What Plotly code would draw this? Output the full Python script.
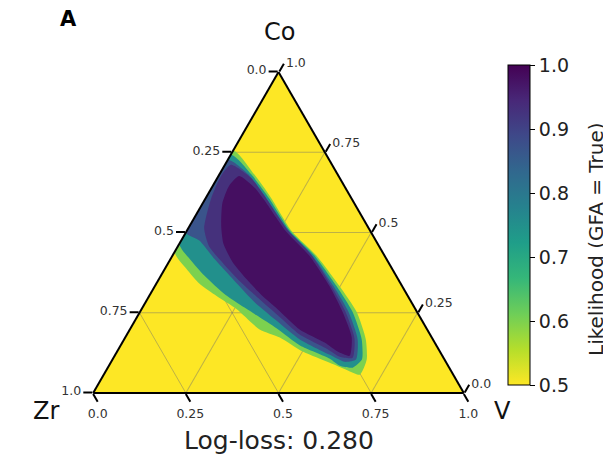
import plotly.graph_objects as go
from plotly.colors import sequential, hex_to_rgb

# ---------------- data (Co, Zr, V fractions) ----------------
tick_vals = [0.0, 0.25, 0.5, 0.75, 1.0]
tick_text_rev = ["1.0", "0.75", "0.5", "0.25", "0.0"]
cbar_vals = [0.5, 0.6, 0.7, 0.8, 0.9, 1.0]
cbar_text = ["0.5", "0.6", "0.7", "0.8", "0.9", "1.0"]

level_values = [0.60, 0.75, 0.87, 0.93, 0.98]

l1_co = [0.755, 0.682, 0.607, 0.503, 0.428, 0.333, 0.252, 0.167, 0.104, 0.057, 0.072, 0.094, 0.129, 0.173, 0.198, 0.261, 0.302, 0.340, 0.387, 0.440]
l1_zr = [0.245, 0.225, 0.216, 0.212, 0.184, 0.169, 0.163, 0.181, 0.210, 0.252, 0.280, 0.315, 0.370, 0.410, 0.452, 0.482, 0.516, 0.543, 0.555, 0.560]
l1_v  = [0.000, 0.093, 0.177, 0.285, 0.388, 0.498, 0.585, 0.652, 0.686, 0.691, 0.648, 0.591, 0.501, 0.417, 0.350, 0.257, 0.182, 0.117, 0.058, 0.000]

l2_co = [0.742, 0.682, 0.607, 0.503, 0.428, 0.333, 0.252, 0.167, 0.104, 0.079, 0.085, 0.107, 0.148, 0.201, 0.242, 0.305, 0.365, 0.418, 0.465]
l2_zr = [0.258, 0.233, 0.222, 0.216, 0.189, 0.177, 0.174, 0.192, 0.223, 0.260, 0.292, 0.308, 0.368, 0.404, 0.438, 0.490, 0.517, 0.531, 0.535]
l2_v  = [0.000, 0.085, 0.171, 0.281, 0.383, 0.490, 0.574, 0.641, 0.673, 0.661, 0.623, 0.585, 0.484, 0.395, 0.320, 0.205, 0.118, 0.051, 0.000]

l3_co = [0.726, 0.682, 0.601, 0.503, 0.428, 0.333, 0.252, 0.167, 0.104, 0.097, 0.119, 0.167, 0.230, 0.283, 0.349, 0.418, 0.475, 0.500]
l3_zr = [0.274, 0.241, 0.230, 0.220, 0.195, 0.185, 0.185, 0.203, 0.239, 0.273, 0.302, 0.359, 0.395, 0.423, 0.444, 0.464, 0.476, 0.500]
l3_v  = [0.000, 0.077, 0.169, 0.277, 0.377, 0.482, 0.563, 0.630, 0.657, 0.630, 0.579, 0.474, 0.375, 0.294, 0.207, 0.118, 0.049, 0.000]

l3b_co = [0.711, 0.670, 0.613, 0.506, 0.431, 0.333, 0.252, 0.170, 0.110, 0.113, 0.138, 0.182, 0.242, 0.292, 0.346, 0.403, 0.456, 0.513, 0.607, 0.676]
l3b_zr = [0.273, 0.239, 0.230, 0.221, 0.196, 0.191, 0.193, 0.210, 0.245, 0.278, 0.301, 0.352, 0.381, 0.405, 0.429, 0.447, 0.459, 0.444, 0.378, 0.317]
l3b_v  = [0.016, 0.091, 0.157, 0.273, 0.373, 0.476, 0.555, 0.620, 0.645, 0.609, 0.561, 0.466, 0.377, 0.303, 0.225, 0.150, 0.085, 0.043, 0.015, 0.007]

l4_co = [0.676, 0.638, 0.601, 0.503, 0.428, 0.333, 0.252, 0.173, 0.116, 0.129, 0.157, 0.198, 0.255, 0.302, 0.355, 0.409, 0.465, 0.519, 0.591, 0.645]
l4_zr = [0.268, 0.244, 0.238, 0.228, 0.203, 0.196, 0.201, 0.216, 0.250, 0.276, 0.297, 0.344, 0.369, 0.392, 0.409, 0.420, 0.416, 0.395, 0.356, 0.311]
l4_v  = [0.056, 0.118, 0.161, 0.269, 0.369, 0.471, 0.547, 0.611, 0.634, 0.595, 0.546, 0.458, 0.376, 0.306, 0.236, 0.171, 0.119, 0.086, 0.053, 0.044]

regions = [(l1_co, l1_zr, l1_v), (l2_co, l2_zr, l2_v), (l3_co, l3_zr, l3_v),
           (l3b_co, l3b_zr, l3b_v), (l4_co, l4_zr, l4_v)]

CMIN, CMAX = 0.5, 1.0
scale = list(sequential.Viridis_r)

# page body has an 8px offset
W, H = 603, 450
OFF = 8


def px(xr):
    return (xr - OFF) / W


def py(yr):
    return (H - (yr - OFF)) / H


def level_color(v):
    t = (v - CMIN) / (CMAX - CMIN)
    t = min(max(t, 0.0), 1.0)
    pos = t * (len(scale) - 1)
    i = min(int(pos), len(scale) - 2)
    f = pos - i
    c0 = hex_to_rgb(scale[i])
    c1 = hex_to_rgb(scale[i + 1])
    rgb = [round(c0[k] + (c1[k] - c0[k]) * f) for k in range(3)]
    return "rgb(%d,%d,%d)" % tuple(rgb)


fig = go.Figure()
for lv, (co, zr, v) in zip(level_values, regions):
    fig.add_trace(go.Scatterternary(
        a=co + co[:1], b=zr + zr[:1], c=v + v[:1],
        mode="lines", fill="toself", fillcolor=level_color(lv),
        line=dict(width=0, color=level_color(lv), shape="spline", smoothing=0.6),
        hoverinfo="skip", showlegend=False,
    ))

# colour bar carrier
fig.add_trace(go.Scatterternary(
    a=[0.34, 0.33], b=[0.33, 0.34], c=[0.33, 0.33], mode="markers",
    marker=dict(color=[CMIN, CMAX], cmin=CMIN, cmax=CMAX, colorscale="Viridis_r",
                opacity=0, size=1, showscale=True,
                colorbar=dict(
                    x=px(508), xanchor="left", xpad=0,
                    y=py(225), yanchor="middle", ypad=0,
                    lenmode="pixels", len=320, thickness=22,
                    outlinecolor="black", outlinewidth=1,
                    ticks="outside", ticklen=5, tickcolor="black",
                    tickmode="array", tickvals=cbar_vals, ticktext=cbar_text,
                    tickfont=dict(size=19, color="#222"),
                    title=dict(text=""),
                )),
    hoverinfo="skip", showlegend=False,
))

axis_common = dict(
    title=dict(text=""),
    tickmode="array", tickvals=tick_vals, ticktext=tick_text_rev,
    ticks="outside", ticklen=9, tickwidth=1.5, tickcolor="black",
    linecolor="black", linewidth=2, showline=True,
    showgrid=True, gridcolor="rgba(110,110,110,0.45)", gridwidth=1,
    tickfont=dict(size=12.5, color="#333"), layer="above traces",
)


def label(text, xr, yr, size, angle=0, color="#111"):
    return dict(text=text, x=px(xr), y=py(yr), xref="paper", yref="paper",
                xanchor="center", yanchor="middle", showarrow=False,
                textangle=angle, font=dict(size=size, color=color))


fig.update_layout(
    width=W, height=H,
    margin=dict(l=0, r=0, t=0, b=0),
    paper_bgcolor="white",
    font=dict(family="DejaVu Sans", color="#222"),
    ternary=dict(
        domain=dict(x=[px(93), px(464)], y=[py(393), py(72)]),
        bgcolor="#fde725", sum=1,
        aaxis=axis_common, baxis=axis_common, caxis=axis_common,
    ),
    annotations=[
        label("Co", 279, 32, 24),
        label("Zr", 46, 411, 24),
        label("V", 502, 411, 24),
        label("Log-loss: 0.280", 279, 440, 25, color="#222"),
        label("<b>A</b>", 68, 19, 21, color="black"),
        label("Likelihood (GFA = True)", 596, 239, 20, angle=-90, color="#222"),
    ],
)

fig.write_html("out.html")
